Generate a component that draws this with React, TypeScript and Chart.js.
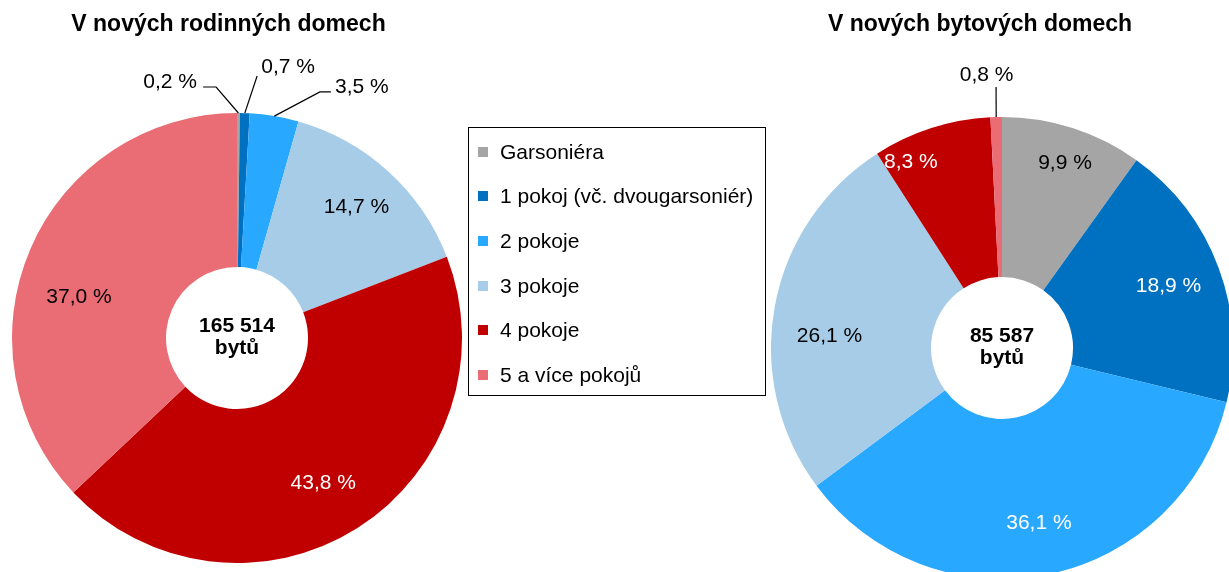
import { useEffect, useRef } from 'react';
import { Chart, registerables } from 'chart.js';

Chart.register(...registerables);

// ---- data ----
const categories = [
  'Garsoniéra',
  '1 pokoj (vč. dvougarsoniér)',
  '2 pokoje',
  '3 pokoje',
  '4 pokoje',
  '5 a více pokojů',
];
const rodinneValues = [0.2, 0.7, 3.5, 14.7, 43.8, 37.0];
const bytoveValues = [9.9, 18.9, 36.1, 26.1, 8.3, 0.8];
const titles = ['V nových rodinných domech', 'V nových bytových domech'];
const totals = ['165 514', '85 587'];
const unitLabel = 'bytů';

// ---- styles ----
const sliceColors = ['#A5A5A5', '#0070C0', '#29A8FF', '#A6CCE8', '#C00000', '#EA6C74'];
const rodinneLabelColors = ['#000', '#000', '#000', '#000', '#fff', '#000'];
const bytoveLabelColors = ['#000', '#fff', '#fff', '#000', '#fff', '#000'];
const FONT = '"Liberation Sans", Arial, Helvetica, sans-serif';

type Leader = { start: [number, number]; elbow?: [number, number] };
type Placement = { r: number; dA: number; leader?: Leader };

// label placement relative to each slice (radius from centre, angle shift in degrees)
const rodinnePlacement: Placement[] = [
  { r: 264.6, dA: -15.0, leader: { start: [33, 5], elbow: [46, 5] } },
  { r: 275.8, dA: 8.7, leader: { start: [-31, 9] } },
  { r: 280.4, dA: 16.9, leader: { start: [-31, 5], elbow: [-42, 5] } },
  { r: 177.3, dA: 0 },
  { r: 168.6, dA: 1.5 },
  { r: 163.2, dA: -8.75 },
];
const bytovePlacement: Placement[] = [
  { r: 195.4, dA: 1.0 },
  { r: 177.7, dA: 0 },
  { r: 178.9, dA: -0.4 },
  { r: 172.9, dA: -6.4 },
  { r: 207, dA: -8.3 },
  { r: 273.4, dA: -1.8, leader: { start: [9.5, 12] } },
];

function fmt(v: number) {
  return v.toFixed(1).replace('.', ',') + ' %';
}

function makePlugin(
  title: string,
  titleX: number,
  titleY: number,
  total: string,
  labelColors: string[],
  placements: Placement[]
) {
  return {
    id: 'decor',
    afterDraw(chart: any) {
      const ctx: CanvasRenderingContext2D = chart.ctx;
      const meta = chart.getDatasetMeta(0);
      const values = chart.data.datasets[0].data as number[];
      ctx.save();
      ctx.textAlign = 'center';
      ctx.textBaseline = 'middle';
      ctx.fillStyle = '#000';
      ctx.font = `bold 23px ${FONT}`;
      ctx.fillText(title, titleX, titleY);

      meta.data.forEach((el: any, i: number) => {
        const p = el.getProps(['x', 'y', 'startAngle', 'endAngle', 'outerRadius', 'innerRadius'], true);
        const mid = (p.startAngle + p.endAngle) / 2;
        const pl = placements[i];
        const a = mid + (pl.dA * Math.PI) / 180;
        const lx = p.x + pl.r * Math.cos(a);
        const ly = p.y + pl.r * Math.sin(a);
        if (pl.leader) {
          ctx.beginPath();
          ctx.moveTo(lx + pl.leader.start[0], ly + pl.leader.start[1]);
          if (pl.leader.elbow) ctx.lineTo(lx + pl.leader.elbow[0], ly + pl.leader.elbow[1]);
          ctx.lineTo(p.x + p.outerRadius * Math.cos(mid), p.y + p.outerRadius * Math.sin(mid));
          ctx.strokeStyle = '#000';
          ctx.lineWidth = 1.2;
          ctx.stroke();
        }
        ctx.font = `21px ${FONT}`;
        ctx.fillStyle = labelColors[i];
        ctx.fillText(fmt(values[i]), lx, ly);
      });

      const c = meta.data[0];
      ctx.font = `bold 21px ${FONT}`;
      ctx.fillStyle = '#000';
      ctx.textBaseline = 'alphabetic';
      ctx.fillText(total, c.x, c.y - 6);
      ctx.fillText(unitLabel, c.x, c.y + 16);
      ctx.restore();
    },
  };
}

type DProps = {
  values: number[];
  left: number;
  width: number;
  padTop: number;
  radius: number;
  hole: number;
  plugin: any;
};

function Doughnut({ values, left, width, padTop, radius, hole, plugin }: DProps) {
  const ref = useRef<HTMLCanvasElement | null>(null);
  useEffect(() => {
    if (!ref.current) return;
    const chart = new Chart(ref.current, {
      type: 'doughnut',
      data: {
        labels: categories,
        datasets: [{ data: values, backgroundColor: sliceColors, borderWidth: 0 }],
      },
      options: {
        responsive: false,
        animation: false,
        events: [],
        radius,
        cutout: `${(hole / radius) * 100}%`,
        layout: { padding: { top: padTop } },
        plugins: { legend: { display: false }, tooltip: { enabled: false }, title: { display: false } },
      } as any,
      plugins: [plugin],
    });
    return () => chart.destroy();
  }, []);
  return (
    <canvas
      ref={ref}
      width={width}
      height={572}
      style={{ position: 'absolute', left, top: 0, width, height: 572 }}
    />
  );
}

export default function App() {
  const leftPlugin = makePlugin(titles[0], 228.5, 25, totals[0], rodinneLabelColors, rodinnePlacement);
  const rightPlugin = makePlugin(titles[1], 209, 25, totals[1], bytoveLabelColors, bytovePlacement);
  return (
    <div
      style={{
        position: 'fixed',
        left: 0,
        top: 0,
        width: 1229,
        height: 572,
        overflow: 'hidden',
        background: '#fff',
      }}
    >
      <Doughnut values={rodinneValues} left={0} width={474} padTop={104} radius={225} hole={71} plugin={leftPlugin} />
      <Doughnut values={bytoveValues} left={771} width={462} padTop={124} radius={231} hole={71} plugin={rightPlugin} />
      <div
        style={{
          position: 'absolute',
          left: 468,
          top: 127,
          width: 298,
          height: 269,
          boxSizing: 'border-box',
          border: '1px solid #000',
          fontFamily: FONT,
          fontSize: 21,
          color: '#000',
        }}
      >
        {categories.map((c, i) => (
          <div
            key={c}
            style={{
              position: 'absolute',
              left: 9,
              top: 23.7 + i * 44.6 - 13,
              height: 26,
              display: 'flex',
              alignItems: 'center',
              whiteSpace: 'nowrap',
            }}
          >
            <span
              style={{
                display: 'inline-block',
                width: 10,
                height: 10,
                background: sliceColors[i],
                marginRight: 12,
              }}
            />
            <span>{c}</span>
          </div>
        ))}
      </div>
    </div>
  );
}
